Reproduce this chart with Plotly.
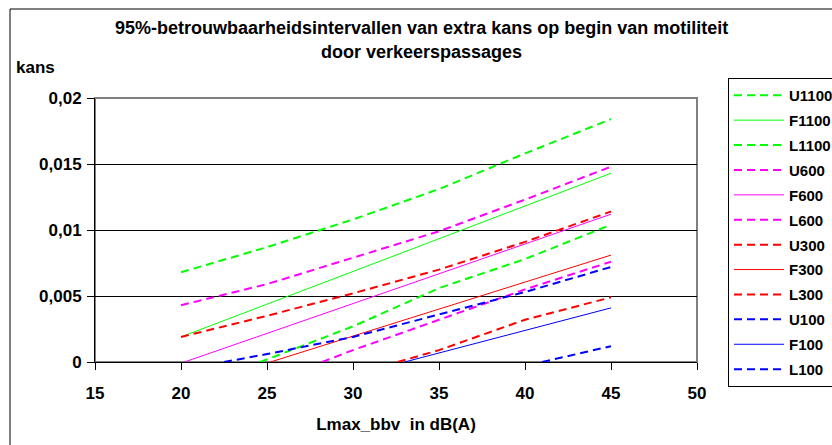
import plotly.graph_objects as go

# 95% confidence bands (U = upper, F = fitted, L = lower) per traffic class
x_u1100 = [20, 25, 30, 35, 40, 45]
y_u1100 = [0.0068, 0.0087, 0.0108, 0.0131, 0.0158, 0.0184]
x_f1100 = [20, 45]
y_f1100 = [0.0019, 0.0143]
x_l1100 = [24.6, 30, 35, 40, 45]
y_l1100 = [0.0, 0.0027, 0.0056, 0.0078, 0.0104]

x_u600 = [20, 25, 30, 35, 40, 45]
y_u600 = [0.0043, 0.0059, 0.0079, 0.0099, 0.0123, 0.0148]
x_f600 = [20.2, 45]
y_f600 = [0.0, 0.0112]
x_l600 = [28.2, 30, 35, 40, 45]
y_l600 = [0.0, 0.0009, 0.0032, 0.0055, 0.0076]

x_u300 = [20, 25, 30, 35, 40, 45]
y_u300 = [0.0019, 0.0035, 0.0052, 0.0070, 0.0091, 0.0114]
x_f300 = [25.2, 45]
y_f300 = [0.0, 0.0081]
x_l300 = [32.6, 35, 40, 45]
y_l300 = [0.0, 0.0009, 0.0032, 0.0049]

x_u100 = [22.5, 25, 30, 35, 40, 45]
y_u100 = [0.0, 0.0006, 0.0019, 0.0036, 0.0053, 0.0072]
x_f100 = [33, 45]
y_f100 = [0.0, 0.0041]
x_l100 = [41, 45]
y_l100 = [0.0, 0.0012]

series = [
    ("U1100", x_u1100, y_u1100, "#00FF00", True),
    ("F1100", x_f1100, y_f1100, "#00FF00", False),
    ("L1100", x_l1100, y_l1100, "#00FF00", True),
    ("U600", x_u600, y_u600, "#FF00FF", True),
    ("F600", x_f600, y_f600, "#FF00FF", False),
    ("L600", x_l600, y_l600, "#FF00FF", True),
    ("U300", x_u300, y_u300, "#FF0000", True),
    ("F300", x_f300, y_f300, "#FF0000", False),
    ("L300", x_l300, y_l300, "#FF0000", True),
    ("U100", x_u100, y_u100, "#0000FF", True),
    ("F100", x_f100, y_f100, "#0000FF", False),
    ("L100", x_l100, y_l100, "#0000FF", True),
]

FONT = "Liberation Sans, Arial, sans-serif"

fig = go.Figure()
for name, xs, ys, color, dashed in series:
    fig.add_trace(go.Scatter(
        x=xs, y=ys, name=name, mode="lines", legendgroup=name,
        line=dict(color=color, width=2 if dashed else 1,
                  dash="8px,5px" if dashed else "solid"),
    ))

W, H = 832, 445
L, R, T, B = 95, 135, 98, 83
pw, ph = W - L - R, H - T - B

def px_x(p):
    return (p - L) / pw

def px_y(p):
    return (H - B - p) / ph

fig.update_layout(
    width=W, height=H,
    margin=dict(l=L, r=R, t=T, b=B, autoexpand=False),
    paper_bgcolor="white", plot_bgcolor="white",
    separators=",.",
    font=dict(family=FONT, size=17, color="black", weight="bold"),
    showlegend=True,
    legend=dict(
        x=px_x(728), y=px_y(78), xanchor="left", yanchor="top",
        bordercolor="black", borderwidth=1, bgcolor="white",
        font=dict(family=FONT, size=15, color="black", weight="bold"),
        traceorder="grouped", tracegroupgap=2.4, itemwidth=50,
        maxheight=420,
    ),
    xaxis=dict(
        range=[15, 50], dtick=5, tick0=15,
        showline=True, linecolor="black", linewidth=1,
        ticks="outside", ticklen=7, tickcolor="black",
        showgrid=False, zeroline=False, ticklabelstandoff=9,
        title=dict(text="Lmax_bbv\u00a0 in dB(A)", standoff=15,
                   font=dict(size=17, weight="bold")),
    ),
    yaxis=dict(
        range=[0, 0.02], dtick=0.005,
        showline=True, linecolor="black", linewidth=1,
        ticks="outside", ticklen=7, tickcolor="black",
        showgrid=True, gridcolor="black", gridwidth=1,
        zeroline=False, ticklabelstandoff=2,
    ),
    shapes=[
        # plot-area frame
        dict(type="rect", xref="x domain", yref="y domain",
             x0=0, x1=1, y0=0, y1=1,
             line=dict(color="#808080", width=2), layer="below"),
        # chart border
        dict(type="rect", xref="paper", yref="paper",
             x0=px_x(10), x1=px_x(900), y0=px_y(9), y1=px_y(500),
             line=dict(color="black", width=1)),
    ],
    annotations=[
        dict(text="95%-betrouwbaarheidsintervallen van extra kans op begin van motiliteit",
             xref="paper", yref="paper", x=px_x(422), y=px_y(28),
             xanchor="center", yanchor="middle", showarrow=False,
             font=dict(size=18, weight="bold")),
        dict(text="door verkeerspassages",
             xref="paper", yref="paper", x=px_x(422), y=px_y(52),
             xanchor="center", yanchor="middle", showarrow=False,
             font=dict(size=18, weight="bold")),
        dict(text="kans", xref="paper", yref="paper",
             x=px_x(14), y=px_y(67), xanchor="left", yanchor="middle",
             showarrow=False, font=dict(size=17, weight="bold")),
    ],
)

fig.write_html("out.html")
